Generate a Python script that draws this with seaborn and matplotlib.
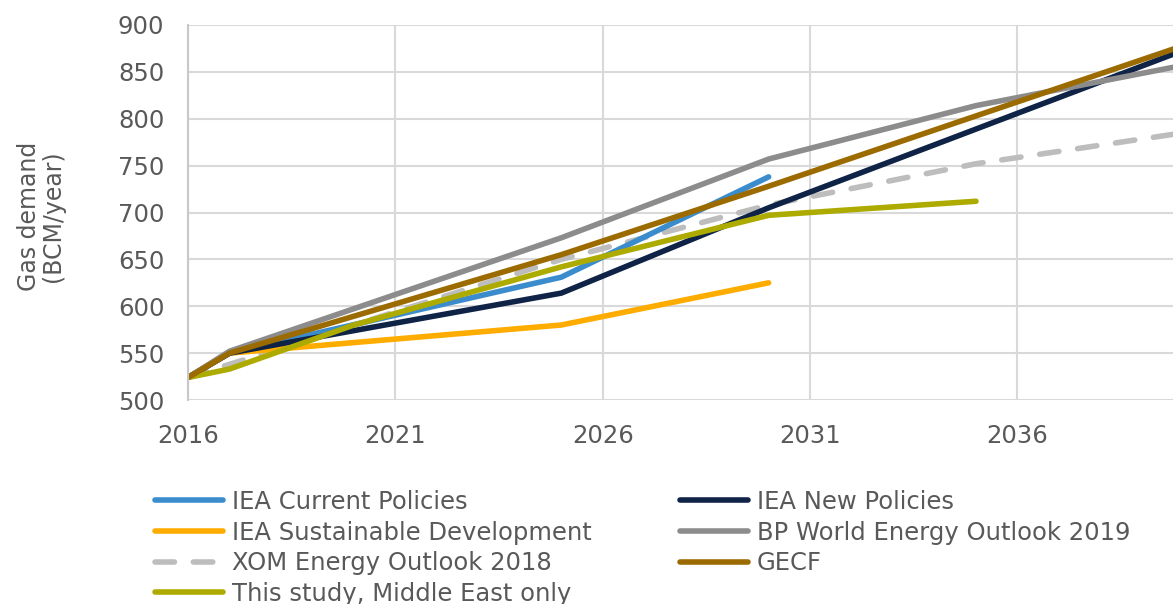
import pandas as pd
import numpy as np
import matplotlib.pyplot as plt
import seaborn as sns

sns.set_style("white")
plt.rcParams['font.family'] = ['DejaVu Sans']

# data (BCM/year)
years_cp = [2016, 2017, 2025, 2030]
iea_current = [524, 550, 631, 738]

years_np = [2016, 2017, 2025, 2030, 2040]
iea_new = [524, 550, 614, 705, 873]

years_sd = [2016, 2017, 2025, 2030]
iea_sustainable = [524, 550, 580, 625]

years_bp = [2016, 2017, 2025, 2030, 2035, 2040]
bp_outlook = [524, 552, 673, 757, 814, 857]

years_xom = [2016, 2025, 2030, 2035, 2040]
xom_outlook = [524, 650, 708, 752, 785]

years_gecf = [2016, 2017, 2025, 2030, 2035, 2040]
gecf = [524, 550, 655, 728, 803, 878]

years_me = [2016, 2017, 2020, 2025, 2030, 2035]
this_study = [524, 533, 580, 642, 697, 712]

series = [
    ("IEA Current Policies", years_cp, iea_current),
    ("IEA New Policies", years_np, iea_new),
    ("IEA Sustainable Development", years_sd, iea_sustainable),
    ("BP World Energy Outlook 2019", years_bp, bp_outlook),
    ("XOM Energy Outlook 2018", years_xom, xom_outlook),
    ("GECF", years_gecf, gecf),
    ("This study, Middle East only", years_me, this_study),
]
colors = {
    "IEA Current Policies": "#3a8ccc",
    "IEA New Policies": "#0e2346",
    "IEA Sustainable Development": "#ffac00",
    "BP World Energy Outlook 2019": "#8c8c8c",
    "XOM Energy Outlook 2018": "#bdbdbd",
    "GECF": "#9c6b00",
    "This study, Middle East only": "#aeab00",
}

rows = []
for name, yrs, vals in series:
    for y, v in zip(yrs, vals):
        rows.append({"year": y, "demand": v, "source": name})
df = pd.DataFrame(rows)

fig = plt.figure(figsize=(11.73, 6.04), dpi=100)
ax = fig.add_axes([188 / 1173, 1 - 400 / 604, 1 - 188 / 1173, 375 / 604])

# draw order: XOM underneath
order = ["XOM Energy Outlook 2018", "IEA Sustainable Development", "IEA Current Policies",
         "IEA New Policies", "This study, Middle East only", "BP World Energy Outlook 2019", "GECF"]
handles = {}
for name in order:
    sub = df[df["source"] == name]
    sns.lineplot(data=sub, x="year", y="demand", ax=ax, color=colors[name], lw=4,
                 dashes=False, legend=False, solid_capstyle="round", dash_capstyle="round")
    line = ax.get_lines()[-1]
    if name == "XOM Energy Outlook 2018":
        line.set_dashes((3.5, 3.4))
    handles[name] = line

ax.set_xlim(2016, 2039.75)
ax.set_ylim(500, 900)
ax.set_xticks([2016, 2021, 2026, 2031, 2036])
ax.set_yticks(np.arange(500, 901, 50))
ax.grid(True, color="#d9d9d9", lw=1.5)
ax.set_axisbelow(True)
for s in ["top", "right", "bottom"]:
    ax.spines[s].set_visible(False)
ax.spines["left"].set_color("#c8c8c8")
ax.spines["left"].set_linewidth(1.5)
ax.tick_params(length=0, labelsize=17.5, labelcolor="#595959", pad=17)
ax.set_xlabel("")
ax.set_ylabel("")

fig.text(41 / 1173, 1 - 216 / 604, "Gas demand\n(BCM/year)", rotation=90, ha="center",
         va="center", fontsize=17, color="#595959", multialignment="center",
         linespacing=1.05)

col1 = ["IEA Current Policies", "IEA Sustainable Development", "XOM Energy Outlook 2018",
        "This study, Middle East only"]
col2 = ["IEA New Policies", "BP World Energy Outlook 2019", "GECF"]
for names, x0 in [(col1, 155), (col2, 680)]:
    fig.legend([handles[n] for n in names], names, loc="upper left",
               bbox_to_anchor=(x0 / 1173, 1 - 490 / 604), frameon=False,
               fontsize=17.5, handlelength=2.8, handletextpad=0.35, borderpad=0,
               borderaxespad=0, labelspacing=0.27, labelcolor="#595959")

fig.savefig("out.png", dpi=100)
